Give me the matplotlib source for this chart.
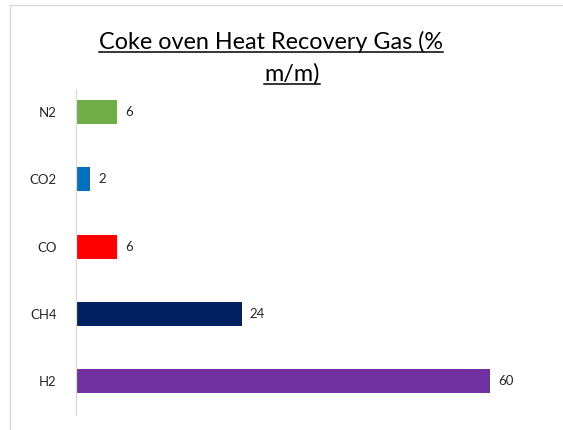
import matplotlib.pyplot as plt
from matplotlib.lines import Line2D

gases = ['H2', 'CH4', 'CO', 'CO2', 'N2']
values = [60, 24, 6, 2, 6]
colors = ['#7030A0', '#002060', '#FF0000', '#0070C0', '#70AD47']
title_lines = ['Coke oven Heat Recovery Gas (%', 'm/m)']

plt.rcParams['font.family'] = ['Lato', 'DejaVu Sans']

fig = plt.figure(figsize=(5.63, 4.30), dpi=100)
ax = fig.add_axes([76 / 563, 15.4 / 430, 414 / 563, 336 / 430])

ypos = list(range(len(gases)))
ax.barh(ypos, values, height=0.36, color=colors)
for y, v in zip(ypos, values):
    ax.text(v + 1.2, y, str(v), va='center', ha='left', fontsize=9.5, color='#262626')

ax.set_xlim(0, 60)
ax.set_ylim(-0.5, 4.5)
ax.set_yticks(ypos)
ax.set_yticklabels(gases, fontsize=9.5, color='#262626')
ax.tick_params(axis='y', length=0, pad=14)
ax.set_xticks([])
for s in ['top', 'right', 'bottom']:
    ax.spines[s].set_visible(False)
ax.spines['left'].set_color('#d9d9d9')
ax.spines['left'].set_linewidth(0.9)
ax.spines['left'].set_bounds(-0.5, 4.33)

# chart border (only top and left visible in the crop)
fig.add_artist(Line2D([10 / 563, 1], [1 - 5 / 430, 1 - 5 / 430], color='#d9d9d9', lw=1))
fig.add_artist(Line2D([10 / 563, 10 / 563], [0, 1 - 5 / 430], color='#d9d9d9', lw=1))

# underlined two-line title
fig.canvas.draw()
renderer = fig.canvas.get_renderer()
xs = [271 / 563, 292 / 563]
ys = [1 - 42 / 430, 1 - 74 / 430]
for line, x, y in zip(title_lines, xs, ys):
    t = fig.text(x, y, line, ha='center', va='center', fontsize=16.8, color='black')
    bb = t.get_window_extent(renderer).transformed(fig.transFigure.inverted())
    fig.add_artist(Line2D([bb.x0, bb.x1], [bb.y0 + 0.002, bb.y0 + 0.002], color='black', lw=1.1))

fig.savefig('out.png', dpi=100)
